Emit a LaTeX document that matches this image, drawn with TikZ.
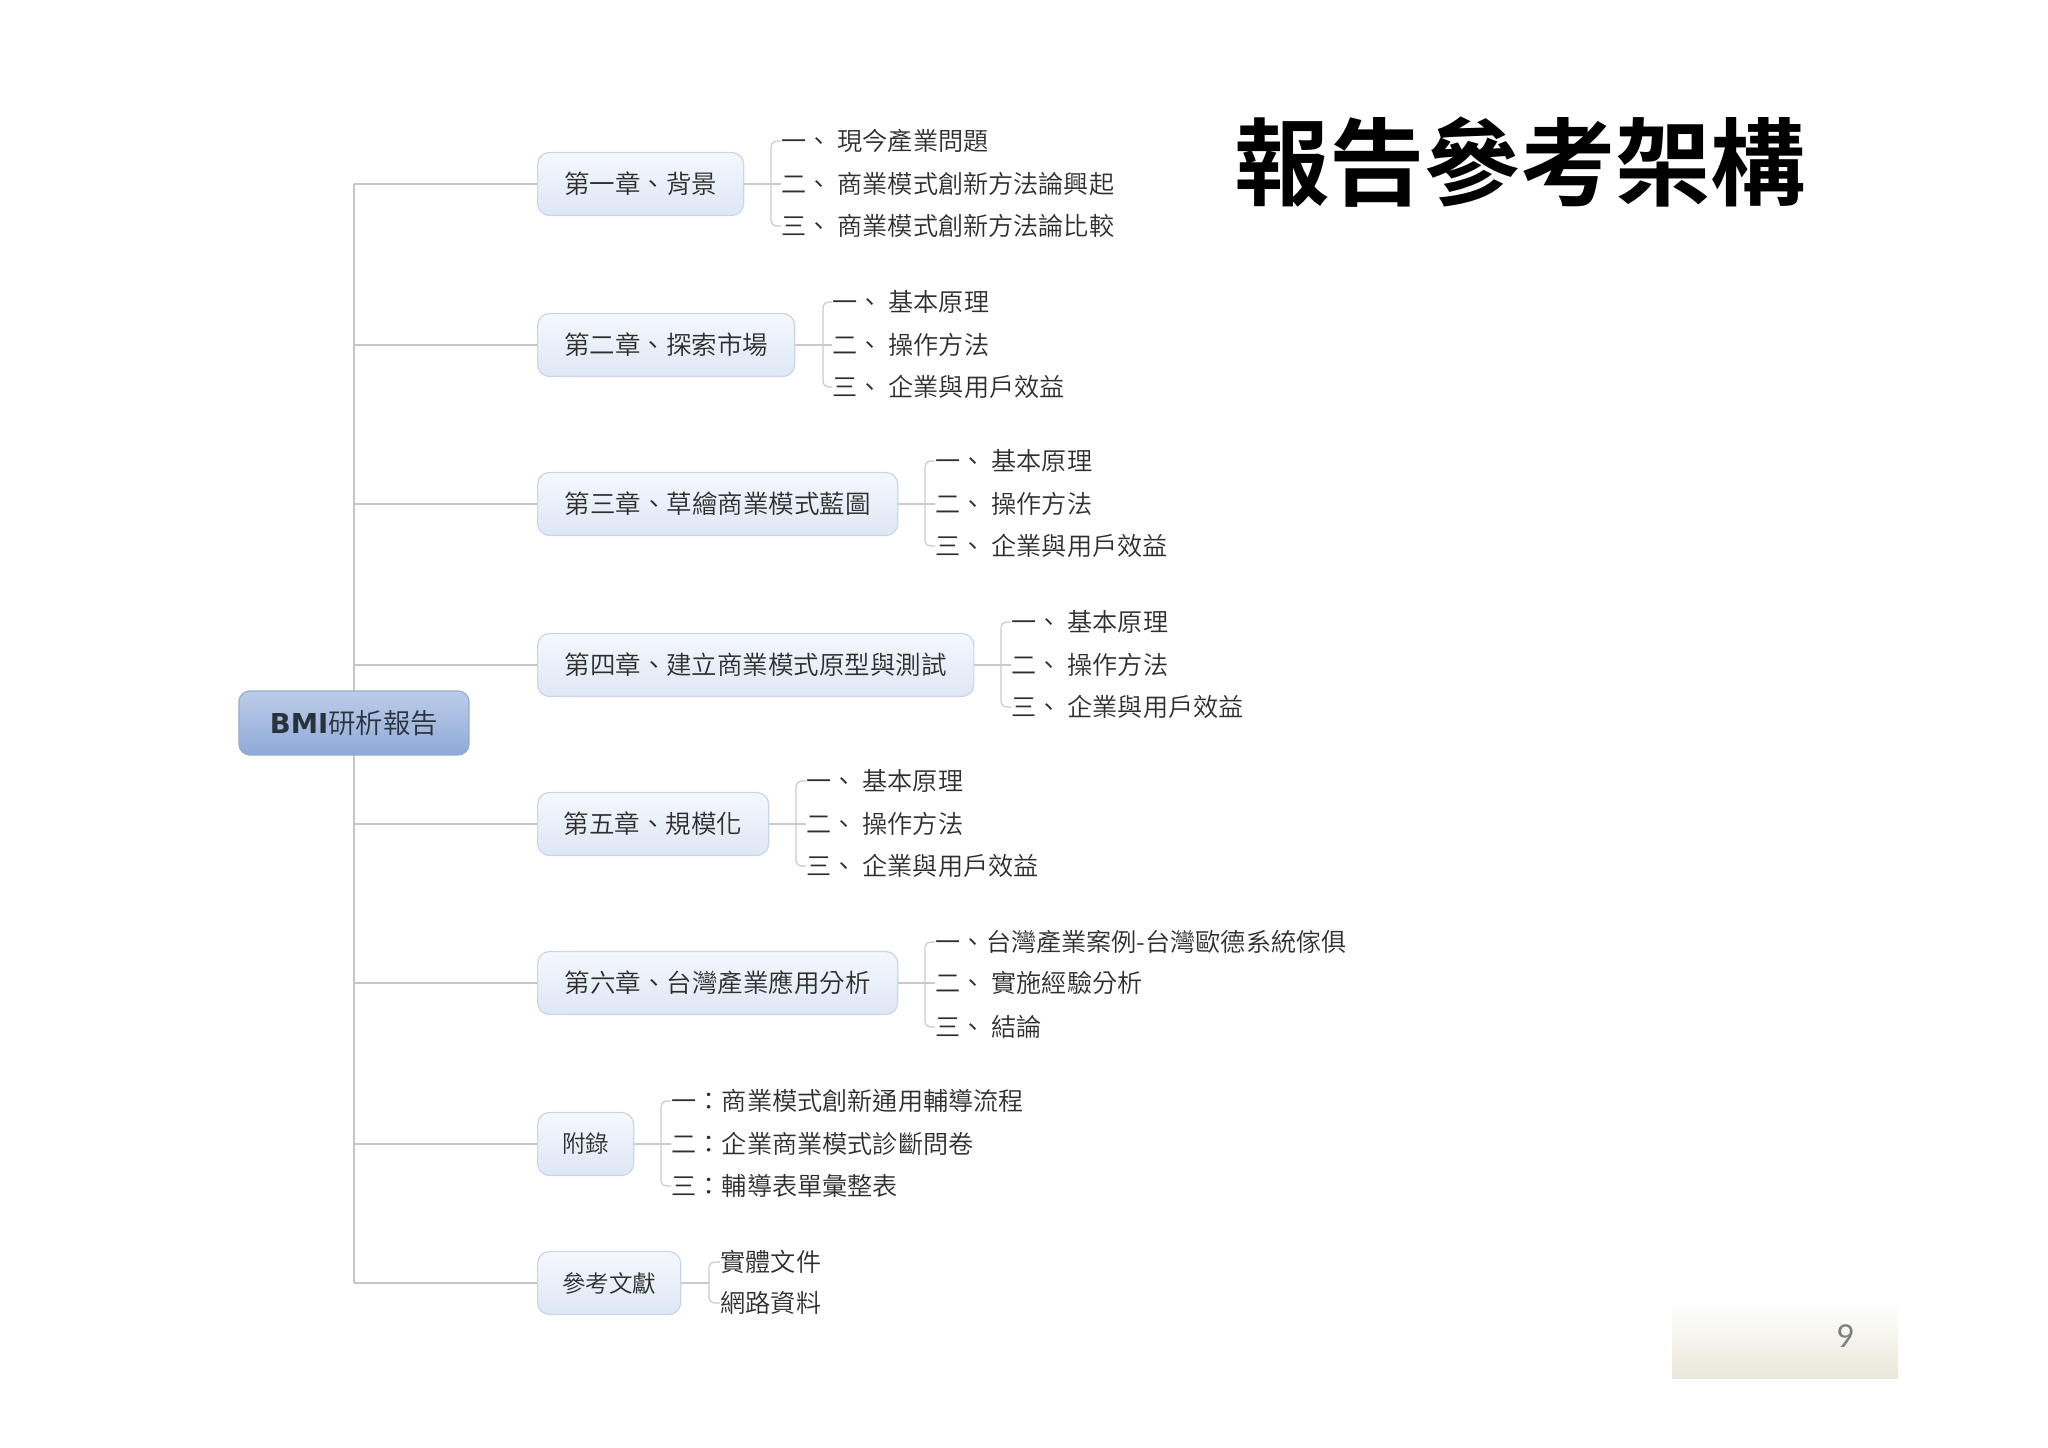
\documentclass[tikz,border=0pt]{standalone}
\usepackage{fontspec}
\setmainfont{Noto Sans CJK TC DemiLight}[BoldFont={Noto Sans CJK TC Bold}]
\newfontfamily\latb{DejaVu Sans}
\newfontfamily\pagef{Carlito}
\usetikzlibrary{backgrounds}
\definecolor{txt}{HTML}{2E2E2E}
\definecolor{roottxt}{HTML}{2A323C}
\definecolor{chaptop}{HTML}{F5F8FD}
\definecolor{chapbot}{HTML}{DEE7F5}
\definecolor{chapborder}{HTML}{C9D5E8}
\definecolor{roottop}{HTML}{BCCDE9}
\definecolor{rootbot}{HTML}{8FAAD8}
\definecolor{rootborder}{HTML}{94ABD2}
\definecolor{trunkcol}{HTML}{C6C6C6}
\definecolor{brkcol}{HTML}{CACACA}
\definecolor{footbot}{HTML}{EAE8DA}
\definecolor{pagecol}{HTML}{808080}
\newcommand\chapfont{\fontsize{7.25}{9}\selectfont}
\newcommand\rootfont{\fontsize{7.8}{9}\selectfont}
\newcommand\smchapfont{\fontsize{6.7}{8}\selectfont}
\newcommand\itemfont{\fontsize{7.15}{9}\selectfont}
\newcommand\titlefont{\fontsize{27.1}{30}\selectfont\bfseries}
\begin{document}
\begin{tikzpicture}[x=0.01cm,y=-0.01cm,
  chap/.style={draw=chapborder, line width=0.012cm, rounded corners=0.12cm,
    top color=chaptop, bottom color=chapbot, minimum height=0.63cm,
    inner xsep=0pt, anchor=west, font=\chapfont, text=txt},
  rootbox/.style={draw=rootborder, line width=0.012cm, rounded corners=0.11cm,
    top color=roottop, bottom color=rootbot, minimum height=0.64cm,
    minimum width=2.30cm, inner xsep=0pt, font=\rootfont, text=roottxt},
  item/.style={anchor=west, inner sep=0pt, font=\itemfont, text=txt},
  brk/.style={draw=brkcol, line width=0.012cm, rounded corners=0.06cm},
  trunk/.style={draw=trunkcol, line width=0.026cm},
  branch/.style={draw=trunkcol, line width=0.02cm},
  brc/.style={draw=brkcol, line width=0.012cm}]
\useasboundingbox (0,0) rectangle (2048,1447);

% title
\node[font=\titlefont, text=black] (title) at (1520,162) {報告參考架構};

% root
\node[rootbox] (root) at (354,723) {{\latb\bfseries BMI}研析報告};

% chapters
\node[chap, minimum width=2.06cm] (c1) at (537,184) {第一章、背景};
\node[chap, minimum width=2.57cm] (c2) at (537,345) {第二章、探索市場};
\node[chap, minimum width=3.60cm] (c3) at (537,504) {第三章、草繪商業模式藍圖};
\node[chap, minimum width=4.36cm] (c4) at (537,665) {第四章、建立商業模式原型與測試};
\node[chap, minimum width=2.31cm] (c5) at (537,824) {第五章、規模化};
\node[chap, minimum width=3.60cm] (c6) at (537,983) {第六章、台灣產業應用分析};
\node[chap, minimum width=0.96cm, font=\smchapfont] (c7) at (537,1144) {附錄};
\node[chap, minimum width=1.43cm, font=\smchapfont] (c8) at (537,1283) {參考文獻};

% items
\node[item] (c1a) at (781,141) {一、 現今產業問題};
\node[item] (c1b) at (781,184) {二、 商業模式創新方法論興起};
\node[item] (c1c) at (781,226) {三、 商業模式創新方法論比較};

\node[item] (c2a) at (832,302) {一、 基本原理};
\node[item] (c2b) at (832,345) {二、 操作方法};
\node[item] (c2c) at (832,387) {三、 企業與用戶效益};

\node[item] (c3a) at (935,461) {一、 基本原理};
\node[item] (c3b) at (935,504) {二、 操作方法};
\node[item] (c3c) at (935,546) {三、 企業與用戶效益};

\node[item] (c4a) at (1011,622) {一、 基本原理};
\node[item] (c4b) at (1011,665) {二、 操作方法};
\node[item] (c4c) at (1011,707) {三、 企業與用戶效益};

\node[item] (c5a) at (806,781) {一、 基本原理};
\node[item] (c5b) at (806,824) {二、 操作方法};
\node[item] (c5c) at (806,866) {三、 企業與用戶效益};

\node[item] (c6a) at (935,942) {一、台灣產業案例-台灣歐德系統傢俱};
\node[item] (c6b) at (935,983) {二、 實施經驗分析};
\node[item] (c6c) at (935,1027) {三、 結論};

\node[item] (c7a) at (671,1101) {一：商業模式創新通用輔導流程};
\node[item] (c7b) at (671,1144) {二：企業商業模式診斷問卷};
\node[item] (c7c) at (671,1186) {三：輔導表單彙整表};

\node[item] (c8a) at (720,1262) {實體文件};
\node[item] (c8b) at (720,1303) {網路資料};

% bracket coordinates
\coordinate (b1) at (771,184);
\coordinate (b2) at (823,345);
\coordinate (b3) at (925,504);
\coordinate (b4) at (1001,665);
\coordinate (b5) at (796,824);
\coordinate (b6) at (925,983);
\coordinate (b7) at (661,1144);
\coordinate (b8) at (709,1283);

% footer
\shade[top color=white, bottom color=footbot] (1672,1300) rectangle (1898,1378);
\node[font=\pagef\fontsize{10}{12}\selectfont, text=pagecol] (pg) at (1845,1336) {9};

\begin{scope}[on background layer]
  \draw[trunk] (root.center |- c1.west) -- (root.center |- c8.west);
  \foreach \c in {c1,c2,c3,c4,c5,c6,c7,c8}
    \draw[branch] (root.center |- \c.west) -- (\c.west);
  \foreach \c/\b in {c1/b1,c2/b2,c3/b3,c4/b4,c5/b5,c6/b6,c7/b7}{
    \draw[brk] (\c a.west) -| (\b) |- (\c c.west);
    \draw[brc] (\c.east) -- (\c b.west);
  }
  \draw[brk] (c8a.west) -| (b8) |- (c8b.west);
  \draw[brc] (c8.east) -- (b8);
\end{scope}
\end{tikzpicture}
\end{document}
